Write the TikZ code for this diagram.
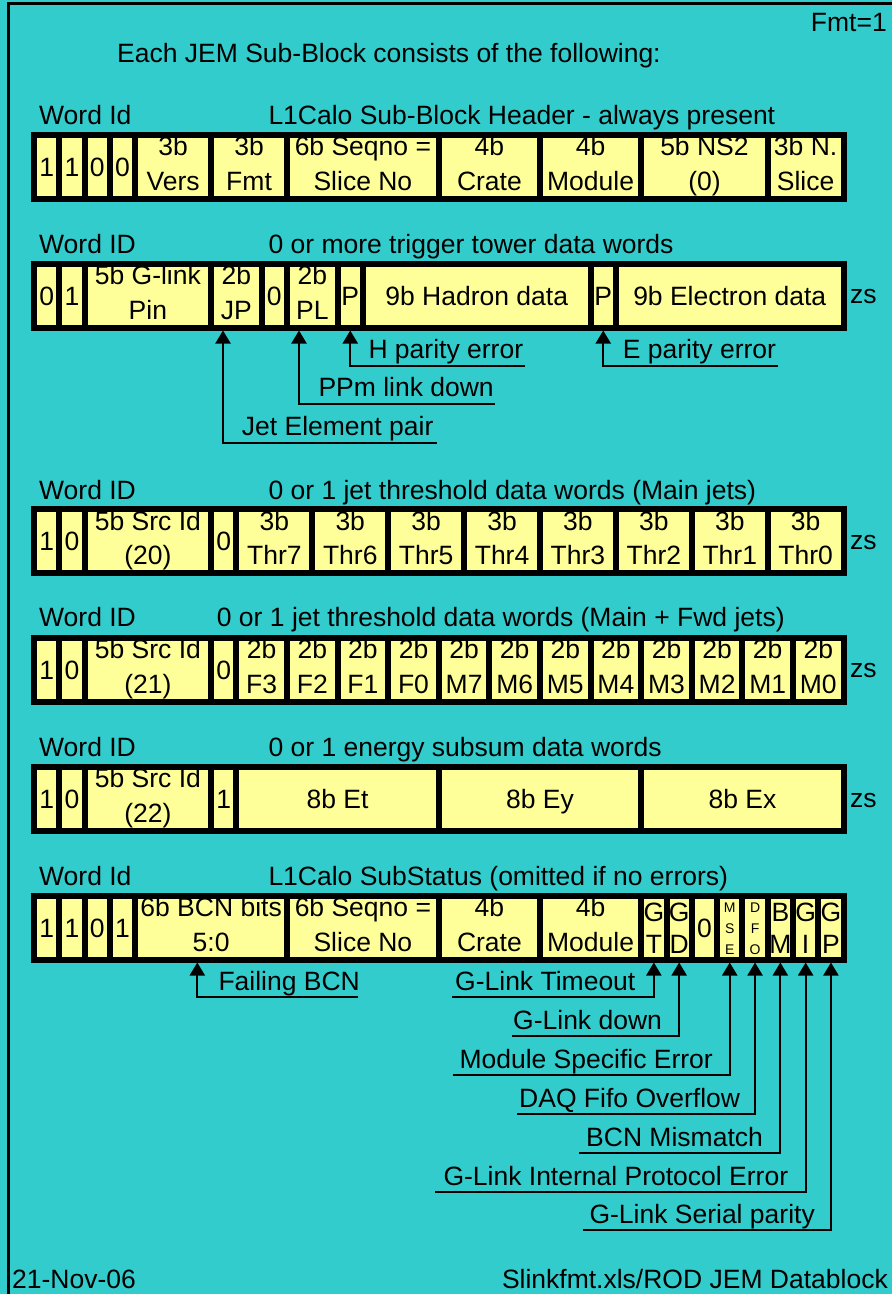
\documentclass[tikz,border=0pt]{standalone}
\usepackage{fontspec}
\setmainfont{Liberation Sans}
\usetikzlibrary{arrows.meta}
\definecolor{jemcyan}{HTML}{33CCCC}
\definecolor{jemyellow}{HTML}{FFFF99}
\newcommand\jemfont{\fontsize{26.5}{32}\selectfont}
\newcommand\jemsmall{\fontsize{14}{17}\selectfont}
\newcommand\jemone[1]{\raisebox{-9.5pt}[0pt][0pt]{\makebox[0pt]{#1}}}
\newcommand\jemtwo[2]{\raisebox{11pt}[0pt][0pt]{\makebox[0pt]{#1}}\raisebox{-23.5pt}[0pt][0pt]{\makebox[0pt]{#2}}}
\newcommand\jemgl[2]{\raisebox{6pt}[0pt][0pt]{\makebox[0pt]{#1}}\raisebox{-26pt}[0pt][0pt]{\makebox[0pt]{#2}}}
\newcommand\jemthree[3]{{\jemsmall\raisebox{15pt}[0pt][0pt]{\makebox[0pt]{#1}}\raisebox{-6pt}[0pt][0pt]{\makebox[0pt]{#2}}\raisebox{-27pt}[0pt][0pt]{\makebox[0pt]{#3}}}}
\newcommand\jemcell[5]{\node[cell,minimum width={#4*25.3pt}] (#1) at ({34+(#3+#4/2)*25.3},#2) {#5};}
\begin{document}
\begin{tikzpicture}[x=1pt,y=-1pt,
  cell/.style={draw=black,fill=jemyellow,line width=6pt,minimum height=64pt,inner sep=0pt,outer sep=3pt,font=\jemfont},
  lbl/.style={anchor=base west,inner sep=0pt,font=\jemfont},
  conn/.style={draw=black,line width=2pt,-{Triangle[width=15pt,length=13pt]}}]
\useasboundingbox (0,0) rectangle (892,1294);
\fill[jemcyan] (0,0) rectangle (892,1294);
\draw[line width=3pt] (8.5,1294) -- (8.5,3) -- (892,3);

\node[lbl,anchor=base east] (fmt) at (887,31) {Fmt=1};
\node[lbl] (intro) at (117,62) {Each JEM Sub-Block consists of the following:};

% ---------- Row 1: header
\node[lbl] (w1) at (39,124) {Word Id};
\node[lbl] (t1) at (268.3,124) {L1Calo Sub-Block Header - always present};
\jemcell{ra}{166.5}{0}{1}{\jemone{1}}
\jemcell{rb}{166.5}{1}{1}{\jemone{1}}
\jemcell{rc}{166.5}{2}{1}{\jemone{0}}
\jemcell{rd}{166.5}{3}{1}{\jemone{0}}
\jemcell{vers}{166.5}{4}{3}{\jemtwo{3b}{Vers}}
\jemcell{fmtc}{166.5}{7}{3}{\jemtwo{3b}{Fmt}}
\jemcell{seqa}{166.5}{10}{6}{\jemtwo{6b Seqno =}{Slice No}}
\jemcell{cratea}{166.5}{16}{4}{\jemtwo{4b}{Crate}}
\jemcell{modulea}{166.5}{20}{4}{\jemtwo{4b}{Module}}
\jemcell{nstwo}{166.5}{24}{5}{\jemtwo{5b NS2}{(0)}}
\jemcell{nslice}{166.5}{29}{3}{\jemtwo{3b N.}{Slice}}

% ---------- Row 2: trigger tower
\node[lbl] (w2) at (39,253) {Word ID};
\node[lbl] (t2) at (268.3,253) {0 or more trigger tower data words};
\jemcell{sa}{295.5}{0}{1}{\jemone{0}}
\jemcell{sb}{295.5}{1}{1}{\jemone{1}}
\jemcell{glink}{295.5}{2}{5}{\jemtwo{5b G-link}{Pin}}
\jemcell{jp}{295.5}{7}{2}{\jemtwo{2b}{JP}}
\jemcell{sz}{295.5}{9}{1}{\jemone{0}}
\jemcell{pl}{295.5}{10}{2}{\jemtwo{2b}{PL}}
\jemcell{hp}{295.5}{12}{1}{\jemone{P}}
\jemcell{had}{295.5}{13}{9}{\jemone{9b Hadron data}}
\jemcell{ep}{295.5}{22}{1}{\jemone{P}}
\jemcell{ele}{295.5}{23}{9}{\jemone{9b Electron data}}
\node[lbl] (zs2) at (850,303.5) {zs};

\node[lbl] (lH) at (368.3,358) {H parity error};
\coordinate (eH) at (525,365.7);
\draw[conn] (eH) -| (hp.south);
\node[lbl] (lE) at (622.7,358) {E parity error};
\coordinate (eE) at (778.3,365.7);
\draw[conn] (eE) -| (ep.south);
\node[lbl] (lP) at (318.3,396.5) {PPm link down};
\coordinate (eP) at (495,404);
\draw[conn] (eP) -| ([xshift=-13.3pt]pl.south);
\node[lbl] (lJ) at (241.7,435.5) {Jet Element pair};
\coordinate (eJ) at (436.7,443.3);
\draw[conn] (eJ) -| ([xshift=-13.4pt]jp.south);

% ---------- Row 3: main jets
\node[lbl] (w3) at (39,499) {Word ID};
\node[lbl] (t3) at (268.3,499) {0 or 1 jet threshold data words (Main jets)};
\jemcell{ma}{541}{0}{1}{\jemone{1}}
\jemcell{mb}{541}{1}{1}{\jemone{0}}
\jemcell{msrc}{541}{2}{5}{\jemtwo{5b Src Id}{(20)}}
\jemcell{mz}{541}{7}{1}{\jemone{0}}
\jemcell{thr7}{541}{8}{3}{\jemtwo{3b}{Thr7}}
\jemcell{thr6}{541}{11}{3}{\jemtwo{3b}{Thr6}}
\jemcell{thr5}{541}{14}{3}{\jemtwo{3b}{Thr5}}
\jemcell{thr4}{541}{17}{3}{\jemtwo{3b}{Thr4}}
\jemcell{thr3}{541}{20}{3}{\jemtwo{3b}{Thr3}}
\jemcell{thr2}{541}{23}{3}{\jemtwo{3b}{Thr2}}
\jemcell{thr1}{541}{26}{3}{\jemtwo{3b}{Thr1}}
\jemcell{thr0}{541}{29}{3}{\jemtwo{3b}{Thr0}}
\node[lbl] (zs3) at (850,549) {zs};

% ---------- Row 4: main + fwd jets
\node[lbl] (w4) at (39,626.7) {Word ID};
\node[lbl] (t4) at (216.7,626.7) {0 or 1 jet threshold data words (Main + Fwd jets)};
\jemcell{fa}{669.5}{0}{1}{\jemone{1}}
\jemcell{fb}{669.5}{1}{1}{\jemone{0}}
\jemcell{fsrc}{669.5}{2}{5}{\jemtwo{5b Src Id}{(21)}}
\jemcell{fz}{669.5}{7}{1}{\jemone{0}}
\jemcell{fthree}{669.5}{8}{2}{\jemtwo{2b}{F3}}
\jemcell{ftwo}{669.5}{10}{2}{\jemtwo{2b}{F2}}
\jemcell{fone}{669.5}{12}{2}{\jemtwo{2b}{F1}}
\jemcell{fzero}{669.5}{14}{2}{\jemtwo{2b}{F0}}
\jemcell{mseven}{669.5}{16}{2}{\jemtwo{2b}{M7}}
\jemcell{msix}{669.5}{18}{2}{\jemtwo{2b}{M6}}
\jemcell{mfive}{669.5}{20}{2}{\jemtwo{2b}{M5}}
\jemcell{mfour}{669.5}{22}{2}{\jemtwo{2b}{M4}}
\jemcell{mthree}{669.5}{24}{2}{\jemtwo{2b}{M3}}
\jemcell{mtwo}{669.5}{26}{2}{\jemtwo{2b}{M2}}
\jemcell{mone}{669.5}{28}{2}{\jemtwo{2b}{M1}}
\jemcell{mzero}{669.5}{30}{2}{\jemtwo{2b}{M0}}
\node[lbl] (zs4) at (850,677.5) {zs};

% ---------- Row 5: energy subsums
\node[lbl] (w5) at (39,756) {Word ID};
\node[lbl] (t5) at (268.3,756) {0 or 1 energy subsum data words};
\jemcell{ea}{798.8}{0}{1}{\jemone{1}}
\jemcell{eb}{798.8}{1}{1}{\jemone{0}}
\jemcell{esrc}{798.8}{2}{5}{\jemtwo{5b Src Id}{(22)}}
\jemcell{eone}{798.8}{7}{1}{\jemone{1}}
\jemcell{et}{798.8}{8}{8}{\jemone{8b Et}}
\jemcell{ey}{798.8}{16}{8}{\jemone{8b Ey}}
\jemcell{ex}{798.8}{24}{8}{\jemone{8b Ex}}
\node[lbl] (zs5) at (850,807) {zs};

% ---------- Row 6: substatus
\node[lbl] (w6) at (39,885) {Word Id};
\node[lbl] (t6) at (268.3,885) {L1Calo SubStatus (omitted if no errors)};
\jemcell{ua}{927.5}{0}{1}{\jemone{1}}
\jemcell{ub}{927.5}{1}{1}{\jemone{1}}
\jemcell{uc}{927.5}{2}{1}{\jemone{0}}
\jemcell{ud}{927.5}{3}{1}{\jemone{1}}
\jemcell{bcn}{927.5}{4}{6}{\jemtwo{6b BCN bits}{5:0}}
\jemcell{seqb}{927.5}{10}{6}{\jemtwo{6b Seqno =}{Slice No}}
\jemcell{crateb}{927.5}{16}{4}{\jemtwo{4b}{Crate}}
\jemcell{moduleb}{927.5}{20}{4}{\jemtwo{4b}{Module}}
\jemcell{gt}{927.5}{24}{1}{\jemgl{G}{T}}
\jemcell{gd}{927.5}{25}{1}{\jemgl{G}{D}}
\jemcell{uz}{927.5}{26}{1}{\jemone{0}}
\jemcell{mse}{927.5}{27}{1}{\jemthree{M}{S}{E}}
\jemcell{dfo}{927.5}{28}{1}{\jemthree{D}{F}{O}}
\jemcell{bm}{927.5}{29}{1}{\jemgl{B}{M}}
\jemcell{gi}{927.5}{30}{1}{\jemgl{G}{I}}
\jemcell{gp}{927.5}{31}{1}{\jemgl{G}{P}}

\node[lbl] (lFB) at (218.3,990) {Failing BCN};
\coordinate (eFB) at (358.3,997.3);
\draw[conn] (eFB) -| ([xshift=-13.8pt]bcn.south);
\node[lbl] (lGT) at (455,990) {G-Link Timeout};
\coordinate (eGT) at (452.3,997.3);
\draw[conn] (eGT) -| (gt.south);
\node[lbl] (lGD) at (513,1029) {G-Link down};
\coordinate (eGD) at (511.7,1036);
\draw[conn] (eGD) -| (gd.south);
\node[lbl] (lMS) at (459.3,1068) {Module Specific Error};
\coordinate (eMS) at (452.7,1075);
\draw[conn] (eMS) -| (mse.south);
\node[lbl] (lDF) at (519,1107) {DAQ Fifo Overflow};
\coordinate (eDF) at (517.3,1114);
\draw[conn] (eDF) -| (dfo.south);
\node[lbl] (lBM) at (586,1146) {BCN Mismatch};
\coordinate (eBM) at (579,1152.7);
\draw[conn] (eBM) -| (bm.south);
\node[lbl] (lGI) at (443.3,1185) {G-Link Internal Protocol Error};
\coordinate (eGI) at (435,1191.7);
\draw[conn] (eGI) -| (gi.south);
\node[lbl] (lGP) at (589.3,1223) {G-Link Serial parity};
\coordinate (eGP) at (582.7,1230);
\draw[conn] (eGP) -| (gp.south);

\node[lbl] (date) at (12,1288) {21-Nov-06};
\node[lbl,anchor=base east] (src) at (888,1288) {Slinkfmt.xls/ROD JEM Datablock};
\end{tikzpicture}
\end{document}
